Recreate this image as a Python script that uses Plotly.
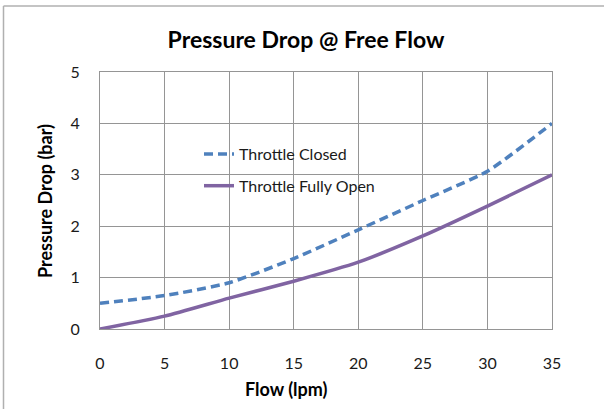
import plotly.graph_objects as go

flow = [0, 5, 10, 15, 20, 25, 30, 35]
closed = [0.5, 0.65, 0.9, 1.37, 1.93, 2.5, 3.07, 4.0]
fully_open = [0.0, 0.25, 0.6, 0.93, 1.3, 1.81, 2.39, 3.0]
x_ticks = [0, 5, 10, 15, 20, 25, 30, 35]
y_ticks = [0, 1, 2, 3, 4, 5]

FONT = "Lato"
W, H = 604, 409
L, R, T, B = 100, 52, 72, 80
pw, ph = W - L - R, H - T - B

def px_x(p):
    return (p - L) / pw

def px_y(p):
    return (H - B - p) / ph

fig = go.Figure()
fig.add_trace(go.Scatter(
    x=flow, y=closed, mode="lines", name="Throttle Closed",
    line=dict(color="#4F81BD", width=3.5, dash="9px,5px", shape="spline", smoothing=0.6),
    legendgroup="a"))
fig.add_trace(go.Scatter(
    x=flow, y=fully_open, mode="lines", name="Throttle Fully Open",
    line=dict(color="#8064A2", width=3.5, shape="spline", smoothing=0.6),
    legendgroup="b"))

grid = "#959595"
fig.update_layout(
    width=W, height=H,
    margin=dict(l=L, r=R, t=T, b=B),
    paper_bgcolor="white", plot_bgcolor="white",
    font=dict(family=FONT, size=16, color="#1a1a1a"),
    title=dict(text="<b>Pressure Drop @ Free Flow</b>", x=306 / W, xanchor="center",
               y=1 - 40 / H, yanchor="middle", yref="container",
               font=dict(family=FONT, size=23, color="#000000")),
    xaxis=dict(range=[0, 35], tickvals=x_ticks, showgrid=True, gridcolor=grid, gridwidth=1,
               zeroline=False, showline=True, linecolor=grid, mirror=True,
               ticks="", ticklabelstandoff=20, tickfont=dict(size=16)),
    yaxis=dict(range=[0, 5], tickvals=y_ticks, showgrid=True, gridcolor=grid, gridwidth=1,
               zeroline=False, showline=True, linecolor=grid, mirror=True,
               ticks="", ticklabelstandoff=16, tickfont=dict(size=16)),
    showlegend=True,
    legend=dict(x=px_x(199), y=px_y(137), xanchor="left", yanchor="top",
                bgcolor="rgba(0,0,0,0)", font=dict(size=16, family=FONT),
                traceorder="grouped", tracegroupgap=8),
    shapes=[
        dict(type="rect", xref="paper", yref="paper",
             x0=px_x(180), x1=px_x(387), y0=px_y(203), y1=px_y(136),
             fillcolor="white", line=dict(width=0), layer="between"),
        dict(type="line", xref="paper", yref="paper",
             x0=px_x(3.5), x1=px_x(3.5), y0=px_y(6), y1=px_y(420),
             line=dict(color="#b0b0b0", width=1.5)),
        dict(type="line", xref="paper", yref="paper",
             x0=px_x(3.5), x1=px_x(620), y0=px_y(6), y1=px_y(6),
             line=dict(color="#b0b0b0", width=1.5)),
    ],
    annotations=[
        dict(text="<b>Flow (lpm)</b>", xref="paper", yref="paper",
             x=px_x(286), y=px_y(389), xanchor="center", yanchor="middle",
             showarrow=False, font=dict(size=18, family=FONT, color="#000000")),
        dict(text="<b>Pressure Drop (bar)</b>", xref="paper", yref="paper",
             x=px_x(45), y=px_y(201), xanchor="center", yanchor="middle",
             textangle=-90, showarrow=False, font=dict(size=18, family=FONT, color="#000000")),
    ],
)

fig.write_html("out.html", config={"displayModeBar": False},
               post_script="document.body.style.margin='0';document.body.style.overflow='hidden';")
